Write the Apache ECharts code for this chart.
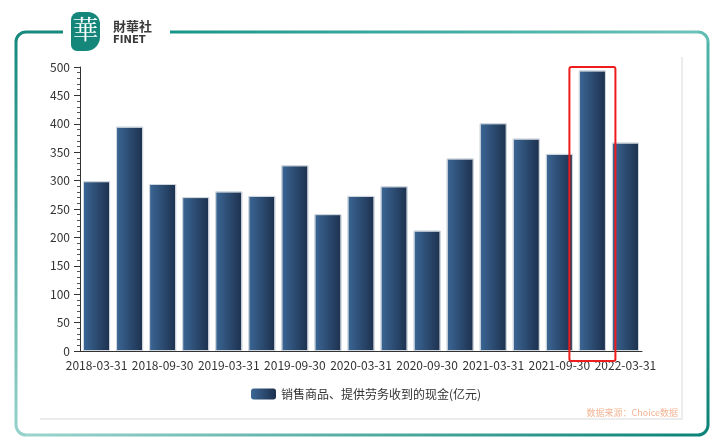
<!DOCTYPE html>
<html><head><meta charset="utf-8">
<script src="https://cdn.jsdelivr.net/npm/echarts@6/dist/echarts.min.js"></script>
<style>html,body{margin:0;padding:0;background:#fff}#c{width:720px;height:445px}</style>
</head><body><div id="c"></div>
<script>
var categories = ['2018-03-31','2018-06-30','2018-09-30','2018-12-31','2019-03-31','2019-06-30','2019-09-30','2019-12-31','2020-03-31','2020-06-30','2020-09-30','2020-12-31','2021-03-31','2021-06-30','2021-09-30','2021-12-31','2022-03-31'];
var cashValues = [299, 395, 294, 271, 281, 273, 327, 241, 273, 290, 212, 339, 401, 374, 347, 494, 367];
var seriesName = '销售商品、提供劳务收到的现金(亿元)';
var highlightIndex = 15;
var sourceText = '数据来源：Choice数据';

var chart = echarts.init(document.getElementById('c'), null, {renderer: 'canvas'});
var barColor = new echarts.graphic.LinearGradient(0, 0, 1, 0, [
  {offset: 0, color: '#3b6796'}, {offset: 1, color: '#1d304d'}
]);
var font = '"Microsoft YaHei","Noto Sans CJK SC","Noto Sans",sans-serif';
chart.setOption({
  animation: false,
  grid: {left: 80, right: 78, top: 67, bottom: 94},
  legend: {
    data: [seriesName], left: 246, top: 383, itemWidth: 25, itemHeight: 11, itemGap: 10,
    itemStyle: {borderWidth: 0},
    textStyle: {color: '#333', fontSize: 12, fontFamily: font}
  },
  xAxis: {
    type: 'category', data: categories,
    axisLine: {lineStyle: {color: '#333', width: 1}},
    axisTick: {alignWithLabel: true, interval: 0, length: 4, lineStyle: {color: '#333'}},
    axisLabel: {interval: 1, color: '#333', fontSize: 12, fontFamily: font, margin: 8}
  },
  yAxis: {
    type: 'value', min: 0, max: 500, interval: 50,
    axisLine: {show: true, lineStyle: {color: '#333'}},
    axisTick: {show: true, inside: false, length: 6, lineStyle: {color: '#333'}},
    minorTick: {show: true, splitNumber: 5, length: 3, lineStyle: {color: '#555'}},
    splitLine: {show: false},
    axisLabel: {color: '#333', fontSize: 12, fontFamily: font, margin: 10}
  },
  series: [{
    name: seriesName, type: 'bar', data: cashValues, barCategoryGap: '18%',
    itemStyle: {color: barColor, borderColor: '#cfd6de', borderWidth: 1}
  }]
});

function grad(x0, y0, x1, y1, c0, c1) {
  return new echarts.graphic.LinearGradient(x0, y0, x1, y1, [{offset: 0, color: c0}, {offset: 1, color: c1}], true);
}
function build() {
  var top = chart.convertToPixel({gridIndex: 0}, [highlightIndex, 500]);
  var bot = chart.convertToPixel({gridIndex: 0}, [highlightIndex, 0]);
  var cx = top[0];
  var g = [];
  var lw = 3;
  g.push({type: 'polyline', silent: true, shape: {points: [[682, 57], [682, 419], [40, 419]]},
    style: {stroke: '#ececec', lineWidth: 2, fill: null}, z: 1});
  g.push({type: 'line', shape: {x1: 26, y1: 32, x2: 63, y2: 32}, style: {stroke: '#168a7d', lineWidth: lw}});
  g.push({type: 'line', shape: {x1: 170, y1: 32, x2: 698, y2: 32}, style: {stroke: grad(170, 32, 698, 32, '#17968a', '#6cc2b9'), lineWidth: lw}});
  g.push({type: 'line', shape: {x1: 708, y1: 42, x2: 708, y2: 425}, style: {stroke: grad(708, 42, 708, 425, '#4fb5aa', '#0c8477'), lineWidth: lw}});
  g.push({type: 'line', shape: {x1: 26, y1: 435, x2: 698, y2: 435}, style: {stroke: grad(26, 435, 698, 435, '#9ad4cd', '#0c8477'), lineWidth: lw}});
  g.push({type: 'line', shape: {x1: 16, y1: 42, x2: 16, y2: 425}, style: {stroke: grad(16, 42, 16, 425, '#178a7d', '#92d0c9'), lineWidth: lw}});
  g.push({type: 'arc', shape: {cx: 26, cy: 42, r: 10, startAngle: Math.PI, endAngle: Math.PI * 1.5}, style: {stroke: '#168a7d', lineWidth: lw, fill: null}});
  g.push({type: 'arc', shape: {cx: 698, cy: 42, r: 10, startAngle: Math.PI * 1.5, endAngle: Math.PI * 2}, style: {stroke: '#5fbdb3', lineWidth: lw, fill: null}});
  g.push({type: 'arc', shape: {cx: 698, cy: 425, r: 10, startAngle: 0, endAngle: Math.PI * 0.5}, style: {stroke: '#0c8477', lineWidth: lw, fill: null}});
  g.push({type: 'arc', shape: {cx: 26, cy: 425, r: 10, startAngle: Math.PI * 0.5, endAngle: Math.PI}, style: {stroke: '#94d1ca', lineWidth: lw, fill: null}});
  // logo
  g.push({type: 'rect', shape: {x: 71, y: 12, width: 29, height: 39, r: [8, 12, 14, 6]},
    style: {fill: '#15877a'}});
  g.push({type: 'text', style: {x: 85.5, y: 16, text: '華', fill: '#fff', font: '26px "Noto Serif CJK SC","Noto Sans CJK TC",serif', align: 'center', verticalAlign: 'top'}});
  g.push({type: 'text', style: {x: 113, y: 20, text: '財華社', fill: '#3a3a3a', font: 'bold 13px "Noto Sans CJK TC",sans-serif', align: 'left', verticalAlign: 'top'}});
  g.push({type: 'text', style: {x: 113, y: 35, text: 'FINET', fill: '#3a3a3a', font: 'bold 10px "DejaVu Sans",sans-serif', align: 'left', verticalAlign: 'top'}});
  // source
  g.push({type: 'text', style: {x: 678, y: 413, text: sourceText, fill: '#f3b595', font: '9px "Noto Sans CJK SC",sans-serif', align: 'right', verticalAlign: 'middle'}});
  // highlight box
  g.push({type: 'rect', shape: {x: cx - 23, y: top[1], width: 46, height: bot[1] - top[1] + 10, r: 2},
    style: {fill: null, stroke: '#ee1c1c', lineWidth: 2}, z: 100});
  chart.setOption({graphic: {elements: g}});
}
build();
</script></body></html>
